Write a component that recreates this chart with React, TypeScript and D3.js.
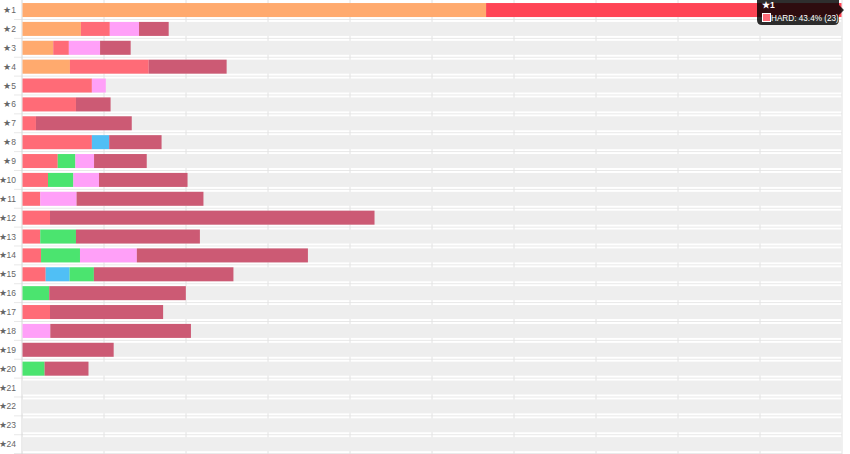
import React from "react";
import * as d3 from "d3";

const levels = Array.from({ length: 24 }, (_, i) => `★${i + 1}`);
const seriesNames = ["NORMAL", "HARD", "EXPERT", "EASY", "EXTRA", "MASTER"];
const seriesColors = ["#FFAA6E", "#FF6B77", "#50BFF5", "#4BE46F", "#FFA0F8", "#CC5A74"];
const normalVals = [30, 3.78, 1.99, 3.07, 0, 0, 0, 0, 0, 0, 0, 0, 0, 0, 0, 0, 0, 0, 0, 0, 0, 0, 0, 0];
const hardVals = [23, 1.87, 1.01, 5.1, 4.49, 3.46, 0.87, 4.49, 2.28, 1.65, 1.15, 1.78, 1.15, 1.2, 1.5, 0, 1.78, 0, 0, 0, 0, 0, 0, 0];
const expertVals = [0, 0, 0, 0, 0, 0, 0, 1.12, 0, 0, 0, 0, 0, 0, 1.55, 0, 0, 0, 0, 0, 0, 0, 0, 0];
const easyVals = [0, 0, 0, 0, 0, 0, 0, 0, 1.14, 1.64, 0, 0, 2.31, 2.52, 1.57, 1.73, 0, 0, 0, 1.43, 0, 0, 0, 0];
const extraVals = [0, 1.89, 2.02, 0, 0.9, 0, 0, 0, 1.21, 1.66, 2.35, 0, 0, 3.68, 0, 0, 0, 1.8, 0, 0, 0, 0, 0, 0];
const masterVals = [0, 1.92, 1.98, 5.04, 0, 2.24, 6.2, 3.39, 3.41, 5.73, 8.21, 21.0, 8.02, 11.07, 9.03, 8.84, 7.32, 9.1, 5.9, 2.84, 0, 0, 0, 0];
const xMax = 53;
const gridCount = 10;

export default function App() {
  const W = 850, H = 454;
  const x0 = 22.5, x1 = 841.5;
  const x = d3.scaleLinear().domain([0, xMax]).range([x0, x1]);
  const y = d3.scaleBand<string>().domain(levels).range([0.6, 453.6]);
  const bh = 14;
  const seriesVals = [normalVals, hardVals, expertVals, easyVals, extraVals, masterVals];
  const table = levels.map((lv, i) => {
    const o: any = { level: lv };
    seriesNames.forEach((s, k) => (o[s] = seriesVals[k][i]));
    return o;
  });
  const stack = d3.stack<any>().keys(seriesNames)(table);
  const gridXs = d3.range(gridCount + 1).map((k) => 22 + ((842 - 22) * k) / gridCount);
  const bw = y.bandwidth();
  const hovered = { row: 0, series: 1 };

  return (
    <svg width={W} height={H} style={{ position: "absolute", left: 0, top: 0, background: "#fff" }}
      fontFamily="'Helvetica Neue', Helvetica, Arial, sans-serif">
      {levels.map((lv, i) => (
        <line key={"h" + i} x1={14} x2={842} y1={(y(lv) as number) + bw} y2={(y(lv) as number) + bw}
          stroke="#e8e8e8" strokeWidth={1} />
      ))}
      {gridXs.map((gx, k) => (
        <line key={"v" + k} x1={gx} x2={gx} y1={0} y2={H} stroke={k === 0 ? "#d6d6d6" : "#e2e2e2"} strokeWidth={1} />
      ))}
      {levels.map((lv) => (
        <rect key={"bg" + lv} x={x0} width={x1 - x0} y={(y(lv) as number) + bw / 2 - bh / 2} height={bh} fill="#EEEEEE" />
      ))}
      {stack.map((layer, k) =>
        layer.map((d, i) => {
          const w = x(d[1]) - x(d[0]);
          if (w <= 0) return null;
          const hov = hovered.row === i && hovered.series === k;
          return (
            <rect key={k + "-" + i} x={x(d[0])} width={w}
              y={(y(levels[i]) as number) + bw / 2 - bh / 2} height={bh}
              fill={hov ? "#FF4455" : seriesColors[k]} />
          );
        })
      )}
      {levels.map((lv) => (
        <text key={"t" + lv} x={16} y={(y(lv) as number) + bw / 2} dy="0.35em" textAnchor="end"
          fontSize={8.5} fill="#666">{lv}</text>
      ))}
      <g>
        <path d="M763,-6 H834 Q839,-6 839,-1 V5 L844,10 L839,15 V20 Q839,25 834,25 H762 Q757,25 757,20 V-1 Q757,-6 762,-6 Z"
          fill="rgba(0,0,0,0.82)" />
        <text x={762} y={7.5} fontSize={8.5} fontWeight="bold" fill="#fff">{levels[0]}</text>
        <rect x={762.5} y={13.5} width={8} height={8} fill={seriesColors[1]} stroke="#fff" strokeWidth={1} />
        <text x={771} y={21} fontSize={8.2} fill="#fff">
          {`${seriesNames[1]}: ${((hardVals[0] / (normalVals[0] + hardVals[0])) * 100).toFixed(1)}% (${hardVals[0]})`}
        </text>
      </g>
    </svg>
  );
}
